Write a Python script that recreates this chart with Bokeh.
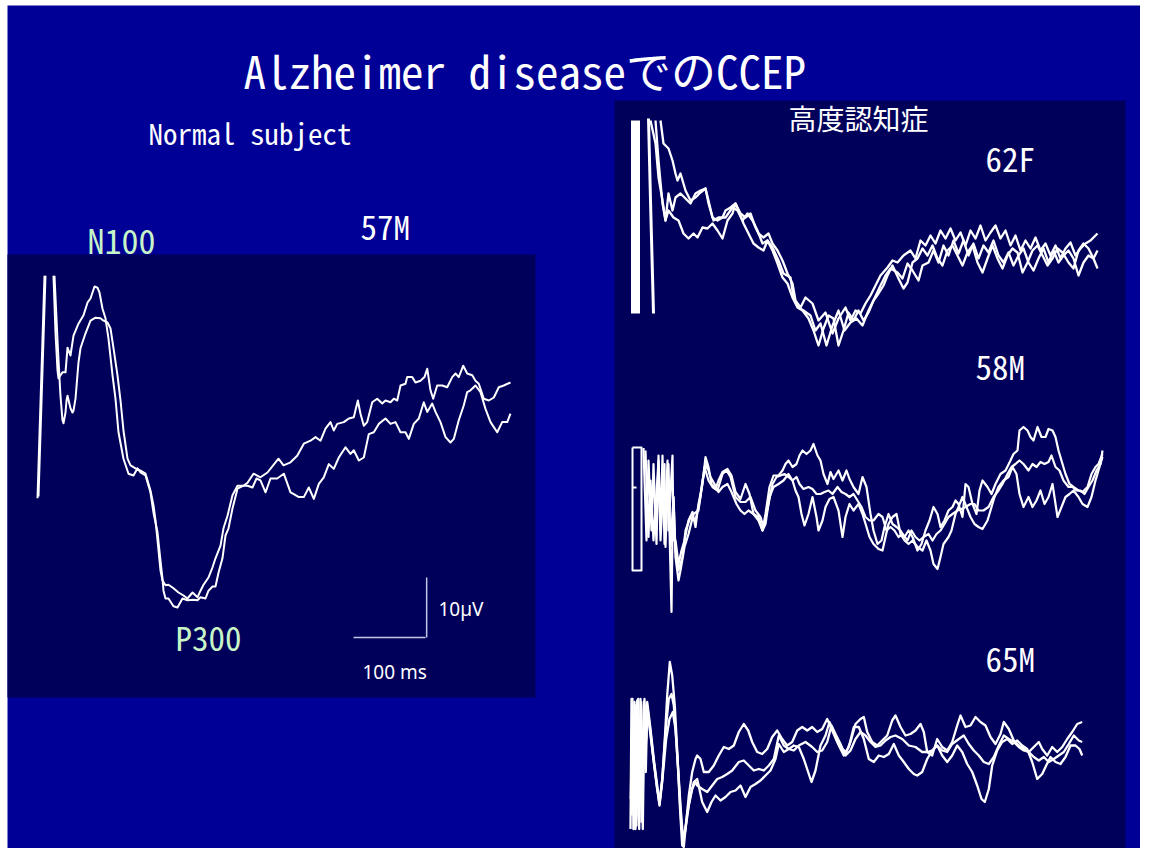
from bokeh.plotting import figure
from bokeh.models import Range1d, Label
from bokeh.embed import file_html
from bokeh.resources import INLINE

nan = float("nan")

# ---------------- data ----------------
# Normal subject 57M : time (ms) and amplitude (uV, negative up), two sweeps
normal_t_a = [0, 9.7, nan, 22.2, 25, 27.8, 29.2, 34.7, 38.9, 41.7,
              45.8, 50, 56.9, 63.9, 69.4, 73.6, 79.2, 83.3, 86.1, 90.3,
              94.4, 98.6, 104.2, 108.3, 112.5, 119.4, 126.4, 133.3, 138.9, 143.1,
              150, 156.9, 161.1, 166.7, 170.8, 173.6, 175, 177.8, 181.9, 188.9,
              194.4, 201.4, 208.3, 216.7, 222.2, 226.4, 233.3, 237.5, 243.1, 247.2,
              251.4, 256.9, 261.1, 265.3, 270.8, 277.8, 286.1, 291.7, 300, 309.7,
              319.4, 334.7, 341.7, 351.4, 360.7, 369.9, 379.2, 386.1, 393.1, 400,
              406.9, 411.5, 416.3, 425.4, 432.4, 439.3, 444.9, 448.6, 453.2, 457.9,
              464.9, 471.8, 478.8, 483.3, 490.3, 494.9, 499.6, 504.2, 511.1, 513.5,
              520.4, 525, 531.9, 537.5, 541.3, 545.8, 549.6, 555.1, 562.1, 569,
              576, 580.6, 585.1, 591.3, 596.8, 603.8, 608.3, 612.9, 619.9, 626.8,
              633.8, 640.7, 647.6, 656.9]
normal_v_a = [11.3, -25.8, nan, -25.8, -16.3, -10, -8.7, -9.7, -9.7, -13.8,
              -12.5, -15.8, -17.8, -19.2, -21.3, -22, -24, -23.8, -23, -20.3,
              -18.7, -15.3, -9.2, -5.3, 0.3, 4.7, 7.2, 7.5, 6.3, 7,
              7.5, 10.3, 13.7, 17, 21.7, 24.7, 26.7, 28, 28, 29.3,
              29.5, 28, 28.3, 28.2, 28.3, 27.8, 28, 26.7, 26, 26,
              23.7, 21.3, 17.5, 16.3, 13, 9.7, 9.2, 8.7, 7.2, 7.8,
              7, 4.7, 5.8, 5.3, 4.2, 2.2, 1.7, 1.1, 1.7, -0.3,
              -1.4, 0, -1.1, -1.4, -2, -2.2, -5, -2.8, -0.8, -1.4,
              -4.7, -5.3, -4.5, -5, -4.7, -5.3, -5, -7.5, -7.8, -8.9,
              -8.9, -8, -8.3, -8.9, -10.3, -6.7, -5.3, -7.5, -7.5, -7.2,
              -8.9, -9.5, -8.9, -10.8, -9.5, -9.2, -8.3, -7.8, -5.3, -5,
              -5.5, -7.2, -7.5, -8]
normal_t_b = [1.4, 11.1, nan, 23.6, 27.8, 29.2, 31.9, 34.7, 36.1, 38.9,
              40.3, 41.7, 45.8, 48.6, 50, 52.8, 56.9, 59.7, 66.7, 73.6,
              80.6, 87.5, 91.7, 97.2, 101.4, 105.6, 111.1, 115.3, 119.4, 125,
              129.2, 136.1, 143.1, 150, 156.9, 161.1, 163.9, 166.7, 170.8, 173.6,
              177.8, 181.9, 188.9, 195.8, 202.8, 208.3, 215.3, 222.2, 226.4, 230.6,
              237.5, 243.1, 247.2, 254.2, 258.3, 263.9, 270.8, 277.8, 286.1, 291.7,
              298.6, 304.2, 309.7, 316.7, 323.6, 332.9, 342.1, 351.4, 356, 362.9,
              369.9, 376.8, 383.8, 390.7, 397.6, 404.6, 411.5, 418.5, 427.8, 434.7,
              439.3, 446.3, 453.2, 460.1, 467.1, 474, 483.3, 490.3, 497.2, 504.2,
              511.1, 515.7, 522.6, 529.6, 536.5, 541.3, 548.2, 552.8, 559.7, 566.7,
              573.6, 578.2, 585.1, 592.1, 596.8, 601.4, 608.3, 615.3, 622.2, 629.2,
              638.5, 645.4, 652.4, 656.9]
normal_v_b = [11, -25.8, nan, -25.8, -15, -11.7, -5.8, -1.7, -1.2, -3,
              -5, -5.8, -3.7, -3, -3.3, -5.3, -11.3, -13.7, -16.2, -18.3,
              -18.8, -18.7, -18.3, -18, -17, -13.7, -9.2, -5, 0, 4.7,
              5.8, 6.3, 6.7, 7.2, 10, 12.5, 15, 18.3, 23.3, 25,
              25.8, 25.7, 26.3, 27, 27.5, 28, 27, 27.8, 26.7, 25.7,
              24.5, 22.8, 21.3, 19.2, 16.3, 14.2, 10.8, 9.2, 9.2, 9.2,
              9.5, 8, 8.3, 10.3, 8, 8, 7.2, 10.3, 10.6, 11.1,
              11.1, 9.5, 11.4, 8.9, 7.8, 5.6, 6.4, 4.5, 2.8, 3.9,
              3.3, 5, 4.5, 0.6, 0.3, -1.1, -2, -1.1, -1.4, 0.3,
              0.3, 1.4, -1.1, -2, -4.7, -3.1, -4.5, -3.1, -1.4, 1.1,
              2, 1.4, -1.7, -4.2, -6.4, -6.7, -7.5, -6.4, -3.6, -1.4,
              0.3, -1.4, -1.4, -2.8]

# scale bar values
scale_ms = 100
scale_uV = 10

# 62F : stimulus artefact and three sweeps
f62_art_t = [2, 2, nan, 5, 5, nan, 8, 8, nan, 18, 20, 23]
f62_art_v = [16.6, -22, nan, -22, 16.6, nan, 16.6, -22, nan, -22.4, -6, 16.6]
f62_t1 = [30, 33, 38, 42, 45, 47, 50, 55, 60, 65, 70, 75, 78, 82, 87, 92, 95, 100, 105, 110,
          115, 120, 125, 128, 133, 138, 142, 147, 152, 157, 162, 165, 170, 175, 182, 188, 195, 202, 208, 215,
          220, 225, 230, 235, 240, 245, 250, 257, 262, 267, 273, 280, 285, 290, 295, 300, 305, 310, 315, 320,
          325, 330, 335, 340, 345, 350, 355, 360, 365, 370, 375, 380, 385, 390, 395, 400, 405, 410, 415, 420,
          425, 430, 435, 440, 445, 450, 455, 460, 467]
f62_v1 = [-22, -17.4, -16.4, -14, -11.4, -10, -11.4, -8, -6, -6.6, -7.6, -8.4, -6, -2.6, -2, -2.6, -4, -4.6, -5.4, -3.4,
          -2.6, -3.4, -0.6, 0.6, 1.4, 0.6, 2.6, 4, 6, 8.6, 10.6, 14, 15.4, 13.4, 14.6, 18, 16.4, 20.6, 17.6, 15.4,
          18, 16, 16.6, 14.6, 13, 11, 9, 7.4, 6, 6.4, 5, 4, 5.6, 2, 3, 1, 2.6, 0, 1.6, -0.4,
          2, 0.4, 3, 0, 1.6, -1, 2, 0.4, -1, 1.6, 0, 3, 1, 4, 2, 3.6, 1.4, 4, 2.6, 5,
          3, 5.6, 3.6, 2.4, 5, 3.6, 2.6, 2, 0.6]
f62_t2 = [25, 28, 32, 35, 38, 42, 45, 50, 55, 60, 65, 70, 75, 78, 83, 88, 95, 102, 107, 112,
          117, 122, 127, 132, 137, 142, 148, 153, 160, 163, 168, 173, 180, 185, 190, 196, 202, 208, 214, 220,
          226, 232, 238, 243, 250, 255, 260, 267, 272, 277, 282, 288, 292, 298, 303, 308, 313, 318, 323, 328,
          333, 338, 343, 348, 353, 358, 363, 368, 373, 378, 383, 388, 393, 398, 403, 408, 413, 418, 423, 428,
          433, 438, 443, 448, 453, 458, 463, 467]
f62_v2 = [-22, -14, -5.4, -2, -7.4, -4, -6.6, -7.4, -6.4, -5.4, -7.4, -8, -8.4, -5.4, -2, -2.6, -2.6, -4.6, -4, -2,
          -3.4, -2, 0, 2.6, 2, 3.4, 6, 8.6, 9.4, 13.4, 15.4, 16, 17, 20, 18.6, 23, 19, 16, 20, 18.4,
          17.6, 19, 16, 14, 11, 9, 7.6, 8.4, 9.6, 6.6, 8, 10, 7, 6.4, 4, 6.4, 3, 5, 2, 4.6,
          2, 5, 2.6, 5.6, 3, 4.4, 2, 5, 6.4, 4.4, 7, 5, 3.6, 6.4, 8, 5.6, 3.6, 6.4, 4, 6.4,
          5, 4, 5.6, 9, 6.4, 5, 5.6, 7.6]
f62_t3 = [20, 25, 28, 32, 35, 38, 43, 48, 53, 58, 63, 67, 72, 77, 82, 87, 92, 97, 102, 105,
          108, 113, 118, 123, 128, 133, 137, 142, 147, 152, 157, 162, 167, 172, 178, 183, 188, 193, 198, 203,
          208, 213, 218, 223, 228, 233, 238, 243, 248, 253, 257, 262, 268, 273, 277, 282, 287, 292, 297, 302,
          307, 312, 317, 322, 327, 332, 337, 342, 347, 352, 357, 362, 367, 372, 377, 382, 387, 392, 397, 402,
          407, 412, 417, 422, 427, 432, 438, 443, 448, 453, 458, 463, 467]
f62_v3 = [-22, -17.4, -10.6, -6, -2, -4, -2.6, -2, 0.6, 1.6, 0.6, 1.4, -0.6, -0.4, -1.4, 0, 1.6, -2, -3.4, -5.4,
          -4, -1.4, 0.6, 2.6, 3.4, 4, 2, 4, 6.6, 9.4, 10.6, 13.4, 15.4, 16, 17.6, 20, 23, 19.6, 17, 17.6,
          23, 20, 16.4, 18, 16, 18, 16.4, 14, 12.6, 11, 9, 7, 9.6, 11.6, 10.4, 6.4, 5.6, 3.6, 5, 3,
          5.6, 7, 4, 3, 5, 7, 4.4, 3, 6.4, 8.4, 5.6, 3, 5.6, 7.6, 5, 3.6, 4.4, 8.4, 6.4, 4,
          3, 5, 7, 5.6, 3.6, 4.4, 6.4, 7.6, 4, 2.6, 3.6, 5.6, 4]

# 58M
m58_art_t = [2, 2, 11, 11, 2, nan, 2, 6]
m58_art_v = [-8.6, 16, 16, -8.6, -8.6, nan, -0.6, -0.6]
m58_t1 = [13, 16, 18, 21, 23, 26, 28, 30, 32, 34, 37, 38, 42, 43, 45, 48, 51, 54, 58, 62,
          65, 68, 72, 75, 78, 81, 85, 88, 92, 97, 101, 105, 110, 115, 119, 123, 128, 132, 135, 139,
          143, 148, 152, 155, 158, 162, 166, 169, 172, 176, 180, 183, 187, 190, 193, 197, 200, 203, 208, 212,
          216, 219, 223, 228, 232, 236, 240, 243, 247, 251, 254, 258, 262, 266, 270, 274, 278, 282, 287, 291,
          295, 299, 303, 307, 310, 314, 318, 322, 325, 328, 332, 335, 338, 342, 346, 349, 352, 357, 361, 365,
          370, 375, 380, 383, 387, 389, 393, 397, 400, 403, 407, 411, 415, 418, 422, 425, 428, 432, 435, 439,
          443, 448, 452, 457, 461, 465, 468, 472]
m58_v1 = [-8.5, 10, -6, 8, -5.3, 10.7, -7, 8, -7, 10.7, -6, 8, -7, 10, 10, 14.7, 12, 10, 6, 4.3,
          7.3, 2.7, -1.3, -6.7, -4.7, -1.3, -0.3, -2, -3.7, -4.3, -3, 0.3, 1.7, -1.3, 0.7, 4.7, 5.3, 8, 4.7, -0.7,
          -3, -3, -4, -5.3, -6, -4.7, -5.3, -7, -8, -7.3, -8, -9.3, -7, -6, -3.3, -1.3, -3.7, -2.3, -4, -2,
          -4, -2.3, -0.7, 0.7, -2.7, -0.7, 4.7, 8, 10.7, 10, 7.3, 4.7, 6.7, 7.3, 8, 9.3, 8, 9.3, 12, 10.7,
          8, 6, 3.3, 4.7, 7.3, 6, 4, 3.3, 2, 2.7, 5.3, -1.3, -0.7, 2.7, 4.7, 0, -2, -0.7, 0.7, -1.3,
          -3.3, -4, -6, -7.3, -8, -12, -12.7, -12, -10.7, -10, -12.7, -10.7, -10.7, -12.3, -12, -10.7, -8, -5.3, -3.3, -1.3,
          -0.7, 0, 0.3, -0.7, -3.3, -4.7, -5.3, -7.3]
m58_t2 = [39, 41, 42, 43, 45, 48, 52, 55, 60, 65, 70, 74, 78, 82, 87, 92, 96, 100, 105, 110,
          115, 120, 125, 130, 133, 138, 142, 146, 150, 154, 158, 162, 166, 169, 173, 178, 182, 186, 190, 194,
          198, 202, 207, 211, 215, 219, 223, 227, 231, 235, 239, 243, 248, 252, 256, 260, 264, 268, 272, 277,
          281, 285, 289, 293, 298, 302, 306, 310, 314, 318, 322, 327, 331, 335, 340, 344, 348, 353, 358, 363,
          368, 372, 377, 381, 385, 389, 393, 398, 402, 406, 410, 414, 418, 421, 425, 429, 433, 438, 442, 446,
          450, 454, 458, 462, 466, 470, 472]
m58_v2 = [8, 24.3, 8, 1.3, 12, 16, 13.3, 8, 5.3, 6, 1.3, -4.7, -2, -0.7, 0, -3.3, -4, -2.7, 1.3, 2.3,
          2.3, 1.3, 4, 5.3, 7.3, 2.7, -1.3, -2.7, -3, -3.3, -2.7, -2, -2.7, -1.3, -0.3, -0.7, -0.3, 0.7, 0.7, 0.3,
          0, 0.7, -0.7, 0.3, 0.7, 1.3, 0.7, 2, 3.3, 5.3, 6, 6, 4.7, 5.3, 8, 7.3, 8, 9.3, 8.7, 10,
          8, 9.3, 10, 9.3, 8.7, 10, 8.7, 8, 6.7, 5.3, 4.7, 4, 3.7, 3.3, 2.7, 2.7, 4, 4, 3.3, 1.3,
          0, -1.3, -3.3, -4.7, -5.3, -6, -5.3, -4, -5.3, -4.7, -5.7, -5.3, -5.7, -7, -4.7, -4, -2, -0.7, -0.7, 0,
          0, 0.7, -0.7, -2, -4, -5.3, -8]
m58_t3 = [15, 18, 20, 23, 28, 30, 34, 35, 38, 40, 43, 45, 48, 50, 54, 58, 63, 68, 72, 76,
          80, 84, 88, 92, 97, 101, 106, 110, 114, 118, 123, 128, 132, 135, 139, 143, 148, 153, 158, 162,
          165, 168, 171, 174, 178, 182, 186, 188, 192, 195, 199, 203, 208, 212, 215, 219, 223, 228, 232, 236,
          239, 243, 248, 252, 255, 258, 262, 266, 270, 274, 278, 282, 287, 292, 296, 300, 303, 307, 310, 313,
          318, 321, 325, 328, 332, 336, 340, 344, 348, 352, 357, 360, 364, 368, 373, 378, 382, 386, 389, 393,
          398, 402, 406, 410, 414, 418, 422, 427, 431, 435, 439, 443, 448, 452, 457, 461, 465, 469, 472]
m58_v3 = [-8, 9.3, -2, 10, -6, 10, -5.3, 11.3, -5.3, 11.3, 1.3, 13.3, 18, 16, 11.3, 8.7, 4.7, 4, -2, -5.3,
          -2.7, -1.3, 0.3, -0.7, -1.3, 0.3, 2.7, 4, 4.7, 4, 4.7, 6, 8, 6.7, 1.3, -0.7, -1.3, -2, -3.3, -2,
          0, 1.3, 4.7, 7, 4.7, 1.3, 5.3, 8, 6, 3.3, 1.7, 1.3, 4, 9.3, 5.3, 2.7, 4, 2.7, 4.7, 7.3,
          9.3, 10.7, 11.7, 12, 9.3, 6.7, 5.3, 4.7, 8.7, 10, 10.7, 10, 11.3, 12, 10, 12, 14.7, 15.7, 13.3, 10.7,
          9.3, 8, 4.7, 3.3, 1.3, 3.3, 5.3, 6.7, 7.3, 7.7, 6, 4, 1.3, -0.7, -2, -2.7, -4.7, -3.3, 0.7, 3.3,
          1.3, 3.3, 2, 0, 2.7, 1.3, -1.3, 5.3, 3.3, 1.3, 0.7, 0, 1.3, 2.7, 3.3, 1.3, -2, -4.7, -6.7]

# 65M
m65_t1 = [0, 1, 2.3, 4, 5, 6.7, 8.3, 10, 11.7, 13.3, 15, 16.7, 20, 23.3, 26.7, 29, 31.7, 34.3, 36.7, 39.3,
          41.7, 44.3, 47, 49.3, 51.7, 53.3, 55.7, 58.3, 61.7, 65, 66.7, 70, 73.3, 78.3, 83.3, 88.3, 93.3, 98.3, 103.3, 108.3,
          113.3, 117.7, 121.7, 126.7, 131.7, 136.7, 141.7, 146.7, 151.7, 156.7, 161.7, 166.7, 171.7, 176.7, 181.7, 186.7, 191.7, 196.7, 201.7, 206.7,
          211.7, 215.7, 220, 225, 230, 233.3, 236.7, 241.7, 246.7, 251.7, 256.7, 261.7, 265, 270, 275, 280, 285, 290, 293.3, 296.7,
          301.7, 306.7, 311.7, 316.7, 321.7, 326.7, 330, 335, 340, 345, 350, 355, 360, 365, 370, 373.3, 378.3, 383.3, 388.3, 393.3,
          398.3, 403.3, 408.3, 411.7, 416.7, 421.7, 426.7, 431.7, 436.7, 441.7, 446.7, 451.7]
m65_v1 = [13.7, -12.3, 9, -11.7, 13.7, -12, 11, -12.3, 12.3, -11.7, -1, -11, -5.7, 0.3, 5.7, 9, 4.3, -4.3, -13, -19.7,
          -17, -11, -1, 9, 17, 17.3, 12.3, 7, 2.3, -0.3, -1, -0.3, 2.3, 2.3, 1, -1, -2.7, -2.3, -3, -5.7,
          -7.3, -6, -3.7, -1.7, -1.3, -2.3, -4.7, -6, -4.3, -3, -3.7, -6, -6.7, -6, -6.7, -5.7, -6.3, -8.3, -6, -3.7,
          -2.3, -1.7, -3.7, -7.3, -8.3, -8.7, -5.7, -3.7, -3, -4, -5, -8, -9, -6.7, -5, -5.3, -6, -7.3, -5.7, -1.7,
          -1, -4.3, -2.7, -2, -3.7, -7, -9, -6.7, -7, -8.7, -7.7, -7, -4.7, -3.3, -5.3, -7.7, -6.3, -4, -3, -2.3,
          -1.7, -2.7, -3.7, -2.3, -1, -2.7, -1.7, -2.7, -4.3, -5.7, -7.3, -7.7]
m65_t2 = [0.7, 1.7, 3.3, 4.3, 6, 7.7, 9, 10.7, 12.3, 14, 15.7, 16.7, 20, 23.3, 26.7, 29, 31.7, 35, 38.3, 41,
          43.3, 45.7, 48.3, 50.7, 52.7, 55, 58.3, 61.7, 65, 66.7, 71.7, 76.7, 81.7, 86.7, 91.7, 96.7, 101.7, 108.3, 113.3, 118.3,
          123.3, 128.3, 133.3, 138.3, 143.3, 148.3, 153.3, 158.3, 163.3, 168.3, 175, 181.7, 186.7, 191.7, 196.7, 201, 205, 210, 215, 220,
          225, 230, 235, 240, 245, 250, 255, 260, 265, 271.7, 278.3, 285, 291.7, 296.7, 301.7, 306.7, 311.7, 316.7, 321.7, 328.3,
          333.3, 338.3, 343.3, 348.3, 353.3, 358.3, 363.3, 368.3, 373.3, 378.3, 383.3, 388.3, 393.3, 398.3, 403.3, 408.3, 413.3, 418.3, 423.3, 428.3,
          433.3, 438.3, 443.3, 448.3, 451.7]
m65_v2 = [11, -11.7, 13.7, -7.7, 13, -12.3, 12.3, -11, 13.7, -12.3, -4.3, -11.7, -6.3, -0.3, 5, 8.7, 3.7, -5.7, -12.3, -13.3,
          -11, -4.3, 4.3, 12.3, 16.3, 13.7, 9, 5.7, 4.3, 5, 5.7, 6.3, 5, 3.7, 3.3, 2.7, 2, 0.3, 0, 1,
          2, 1.7, 2, 1, -0.3, -5, -3, -2.3, -2, -3, -3.7, -2.7, -1.7, -2, -3.7, -7, -5.3, -3.3, -1, -2,
          -4.3, -5.7, -5, -3.7, -2.7, -3, -4, -4.7, -5, -4.3, -3, -2.7, -1.7, -1.7, -2, -3, -2, -1.7, -3.3, -4.3,
          -5, -3.3, -2, -1, 0.3, 0.7, -0.7, -3, -5, -4.3, -3.7, -2.7, -2, -1.7, -0.7, 0, -0.7, 0.3, -0.3, -1,
          -1.7, -3.3, -5, -4, -3.7]
m65_t3 = [0.3, 2, 3, 4.7, 5.7, 7.3, 8.7, 10.3, 12, 13.7, 15.3, 16.7, 20, 23.3, 26.7, 29, 32.3, 35.7, 39, 42.3,
          45, 47.7, 50, 52.3, 54.3, 57, 60, 63.3, 66.7, 71.7, 76.7, 81, 85, 90, 95, 100, 105, 110, 115, 120,
          125, 130, 135, 140, 145, 148.3, 153.3, 158.3, 163.3, 168.3, 173.3, 178.3, 181, 185, 190, 195, 199, 203.3, 208.3, 213.3,
          218.3, 223.3, 228.3, 233.3, 238.3, 243.3, 248.3, 253.3, 258.3, 263.3, 268.3, 273.3, 278.3, 283.3, 286.7, 291.7, 296.7, 301.7, 306.7, 311.7,
          316.7, 321.7, 326.7, 331.7, 336.7, 341.7, 346.7, 351, 354.3, 358.3, 361.7, 366.7, 371.7, 376.7, 381.7, 386.7, 391.7, 396.7, 401.7, 406.7,
          411.7, 415.7, 420, 425, 430, 435, 440, 445, 449, 451.7]
m65_v3 = [7.7, -12.3, 13.7, -11, 11.7, -11.7, 13.7, -11.7, 9.7, -11, 2.3, -10.3, -5, 0.3, 5.7, 8.3, 3, -4.3, -8.3, -9.7,
          -6.3, 1.7, 9, 15, 14.3, 10.3, 7, 4.3, 3.7, 8.3, 10.3, 8.3, 7, 8, 7.3, 6.3, 6, 5, 7.3, 5.3,
          4.7, 4, 3, 2, -0.3, -3.3, -1.7, -2.3, -3, -2.7, -0.3, 2.7, 4.3, 2, -3, -5, -7.7, -5.7, -3, -1,
          -2.7, -6.7, -6.7, -4.3, -0.3, 0.3, -1, -0.7, -1.3, -3.3, -1, 0.3, 1.7, 2.7, 3, 2.3, -0.3, -2, -3, -1,
          0.3, -1, -3, -1.7, 0.7, 2.3, 5, 7.7, 8.3, 5.7, 1, -2, -3.7, -4.3, -3.3, -4, -3, -2.3, 0.3, 3.7,
          2.7, 1, -0.7, 0.3, 0.7, -0.7, -3, -3, -2.3, -1]

# ---------------- layout ----------------
W, H = 1140, 848
BG = "#000096"
PANEL = "#00005A"
GREEN = "#C8F5C8"
MONO = "Noto Sans Mono CJK JP"

p = figure(width=W, height=H, x_range=Range1d(0, W), y_range=Range1d(H, 0),
           output_backend="svg", toolbar_location=None, x_axis_type=None, y_axis_type=None,
           min_border=0, background_fill_color="white", border_fill_color="white",
           outline_line_color=None)

# slide background and the two dark panels
p.quad(left=[7], right=[W], top=[5], bottom=[H], fill_color=BG, line_color=None)
p.quad(left=[7], right=[535], top=[254], bottom=[697], fill_color=PANEL, line_color=None)
p.quad(left=[614], right=[1125], top=[100], bottom=[H], fill_color=PANEL, line_color=None)

xr, yr = {}, {}
def panel_ranges(name, x_origin, px_per_ms, y_origin, px_per_uV):
    xr[name] = Range1d((0 - x_origin) / px_per_ms, (W - x_origin) / px_per_ms)
    yr[name] = Range1d((H - y_origin) / px_per_uV, (0 - y_origin) / px_per_uV)

panel_ranges("n57", 37, 0.72, 430, 6.0)
panel_ranges("f62", 630, 1.0, 230, 5.0)
panel_ranges("m58", 630, 1.0, 490, 5.0)
panel_ranges("m65", 630, 1.0, 760, 5.0)
p.extra_x_ranges = xr
p.extra_y_ranges = yr

def trace(t, v, name, width=2.0):
    p.line(x=t, y=v, x_range_name=name, y_range_name=name, line_color="white",
           line_width=width, line_join="round")

trace(normal_t_a, normal_v_a, "n57", 2.0)
trace(normal_t_b, normal_v_b, "n57", 2.0)

trace(f62_art_t, f62_art_v, "f62", 3.0)
for t, v in [(f62_t1, f62_v1), (f62_t2, f62_v2), (f62_t3, f62_v3)]:
    trace(t, v, "f62", 2.3)

trace(m58_art_t, m58_art_v, "m58", 2.0)
for t, v in [(m58_t1, m58_v1), (m58_t2, m58_v2), (m58_t3, m58_v3)]:
    trace(t, v, "m58", 2.2)

for t, v in [(m65_t1, m65_v1), (m65_t2, m65_v2), (m65_t3, m65_v3)]:
    trace(t, v, "m65", 2.3)

# scale bar (100 ms / 10 uV) in the normal-subject panel
bar_t0, bar_v0 = 439, 34.5
p.line(x=[bar_t0, bar_t0 + scale_ms], y=[bar_v0, bar_v0], x_range_name="n57", y_range_name="n57",
       line_color="#C4C4E4", line_width=1.5)
p.line(x=[bar_t0 + scale_ms + 1.5, bar_t0 + scale_ms + 1.5], y=[bar_v0, bar_v0 - scale_uV],
       x_range_name="n57", y_range_name="n57", line_color="#C4C4E4", line_width=1.5)

def label(x, y, text, size, color="white", font=MONO):
    p.add_layout(Label(x=x, y=y, text=text, text_font=font, text_font_size=size,
                       text_color=color, text_baseline="alphabetic", text_align="left"))

label(243, 69, "Alzheimer diseaseでのCCEP", "45px")
label(148, 131, "Normal subject", "29px")
label(87, 239, "N100", "34px", GREEN)
label(360, 225, "57M", "33px")
label(175, 636, "P300", "33px", GREEN)
label(438, 608, "10\u00b5V", "19px", font="Noto Sans")
label(362, 671, "100 ms", "19px", font="Noto Sans")
label(788, 117, "高度認知症", "28px", font="Noto Sans CJK JP")
label(985, 157, "62F", "33px")
label(975, 365, "58M", "33px")
label(985, 657, "65M", "33px")

open("out.html", "w").write(file_html(p, INLINE))
